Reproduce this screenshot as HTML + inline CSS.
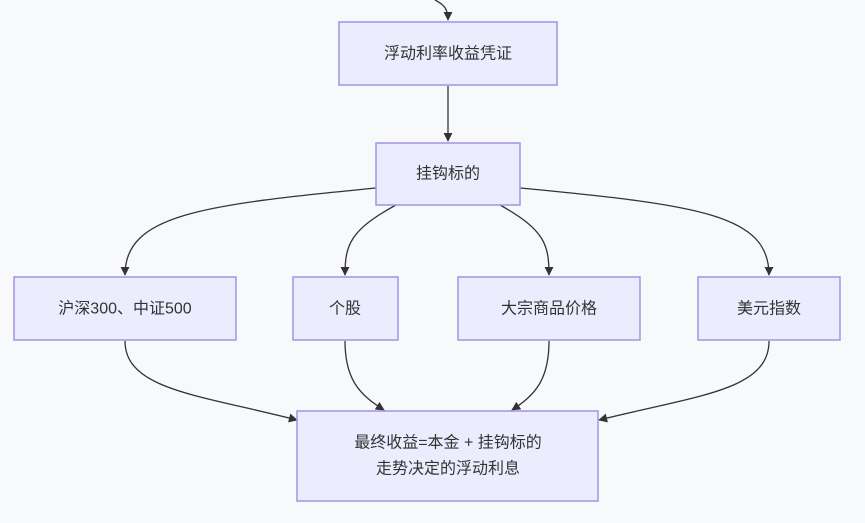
<!DOCTYPE html>
<html><head><meta charset="utf-8"><style>
html,body{margin:0;padding:0;background:#f8f9fa;}
svg{display:block}
text{font-family:"Liberation Sans","Noto Sans CJK SC",sans-serif;font-size:16px;fill:#333;text-anchor:middle;dominant-baseline:central}
rect{fill:#ECECFF;stroke:#a392e6;stroke-width:1.5}
path{fill:none;stroke:#333;stroke-width:1.3}
</style></head><body>
<svg width="865" height="523" viewBox="0 0 865 523">
<defs><marker id="a" viewBox="0 0 10 10" refX="9" refY="5" markerWidth="9" markerHeight="9" markerUnits="userSpaceOnUse" orient="auto"><path d="M0,0L10,5L0,10z" style="fill:#333;stroke:none"/></marker></defs>
<path d="M435,0 C445,5 448,10 448,20" marker-end="url(#a)"/>
<path d="M448,86 L448,141" marker-end="url(#a)"/>
<path d="M376,188 C200,205 125,215 125,275" marker-end="url(#a)"/>
<path d="M396,205 C350,230 345,245 345,275" marker-end="url(#a)"/>
<path d="M500,205 C545,230 549,245 549,275" marker-end="url(#a)"/>
<path d="M520,188 C700,205 769,215 769,275" marker-end="url(#a)"/>
<path d="M125,341 C125,390 200,395 297,420" marker-end="url(#a)"/>
<path d="M345,341 C345,380 360,395 384,410" marker-end="url(#a)"/>
<path d="M549,341 C549,380 535,395 512,410" marker-end="url(#a)"/>
<path d="M769,341 C769,390 700,395 599,420" marker-end="url(#a)"/>
<rect x="339" y="22" width="218" height="63"/><text x="448" y="54">浮动利率收益凭证</text>
<rect x="376" y="143" width="144" height="62"/><text x="448" y="174">挂钩标的</text>
<rect x="14" y="277" width="222" height="63"/><text x="125" y="309">沪深300、中证500</text>
<rect x="293" y="277" width="105" height="63"/><text x="345" y="309">个股</text>
<rect x="458" y="277" width="182" height="63"/><text x="549" y="309">大宗商品价格</text>
<rect x="698" y="277" width="142" height="63"/><text x="769" y="309">美元指数</text>
<rect x="297" y="411" width="301" height="90"/>
<text x="448" y="443">最终收益=本金 + 挂钩标的</text>
<text x="448" y="469">走势决定的浮动利息</text>
</svg>
</body></html>
